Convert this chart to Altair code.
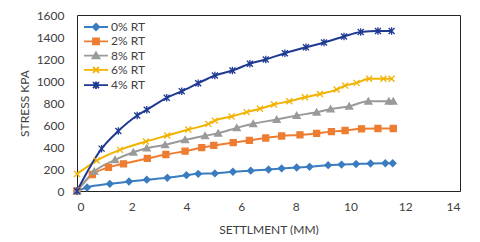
import altair as alt
import pandas as pd

series_names = ["0% RT", "2% RT", "8% RT", "6% RT", "4% RT"]
colors = ["#3A7CC0", "#ED7D31", "#9A9A9A", "#F2B200", "#1F3A93"]

x0 = [0, 0.37, 1.2, 1.9, 2.55, 3.3, 4.0, 4.43, 5.04, 5.7, 6.35, 7.0, 7.48, 8.03, 8.5, 9.18, 9.67, 10.2, 10.73, 11.27, 11.54]
y0 = [0, 32, 65, 86, 103, 120, 144, 156, 160, 175, 185, 195, 205, 214, 220, 235, 240, 245, 250, 252, 252]

x2 = [0, 0.56, 1.15, 1.7, 2.57, 3.25, 3.95, 4.56, 5.0, 5.71, 6.3, 6.9, 7.48, 8.15, 8.76, 9.3, 9.8, 10.4, 11.0, 11.56]
y2 = [0, 150, 214, 247, 296, 332, 362, 395, 414, 440, 460, 482, 500, 510, 523, 540, 550, 565, 568, 568]

x8 = [0, 0.63, 1.39, 2.06, 2.55, 3.22, 3.95, 4.68, 5.16, 5.84, 6.44, 7.3, 8.03, 8.76, 9.27, 9.95, 10.65, 11.4, 11.56]
y8 = [0, 178, 283, 352, 389, 420, 465, 502, 525, 574, 611, 650, 686, 716, 745, 770, 815, 815, 815]

x6 = [0, 0.72, 1.57, 2.52, 3.3, 4.07, 4.8, 5.04, 5.65, 6.2, 6.69, 7.2, 7.76, 8.33, 8.88, 9.49, 9.8, 10.22, 10.68, 11.2, 11.5]
y6 = [155, 277, 374, 450, 505, 559, 610, 640, 677, 717, 747, 786, 816, 852, 882, 922, 958, 983, 1020, 1020, 1020]

x4 = [0, 0.9, 1.51, 2.2, 2.55, 3.28, 3.83, 4.43, 5.04, 5.68, 6.32, 6.9, 7.6, 8.37, 9.03, 9.76, 10.37, 11.0, 11.5]
y4 = [0, 385, 545, 686, 738, 847, 907, 980, 1050, 1095, 1157, 1196, 1253, 1307, 1350, 1405, 1445, 1455, 1455]

xs = [x0, x2, x8, x6, x4]
ys = [y0, y2, y8, y6, y4]

rows = []
for name, xv, yv in zip(series_names, xs, ys):
    for i, (a, b) in enumerate(zip(xv, yv)):
        rows.append({"series": name, "x": a, "y": b, "order": i})
df = pd.DataFrame(rows)

shapes = [
    "M0,-0.65L0.65,0L0,0.65L-0.65,0Z",
    "M-0.6,-0.6H0.6V0.6H-0.6Z",
    "M0,-0.65L0.7,0.55H-0.7Z",
    "M-0.6,-0.6L0.6,0.6M-0.6,0.6L0.6,-0.6",
    "M-0.6,-0.6L0.6,0.6M-0.6,0.6L0.6,-0.6M0,-0.75V0.75",
]
# legend symbols: a short line segment with the series marker on it
legend_shapes = ["M-2.4,0H2.4" + s for s in shapes]

FONT = "Lato"
TXT = "#404040"

x_enc = alt.X("x:Q", title="SETTLMENT (MM)",
              scale=alt.Scale(domain=[0, 14], nice=False),
              axis=alt.Axis(values=list(range(0, 15, 2)), grid=False, ticks=False, domain=False,
                            labelPadding=10, titlePadding=12, format="d"))
y_enc = alt.Y("y:Q", title="STRESS KPA",
              scale=alt.Scale(domain=[0, 1600], nice=False),
              axis=alt.Axis(values=list(range(0, 1601, 200)), grid=False, ticks=False, domain=False,
                            labelPadding=13, titlePadding=5, format="d"))

base = alt.Chart(df).encode(x=x_enc, y=y_enc, order="order:Q")

line = base.mark_line(interpolate="monotone", strokeWidth=2).encode(
    stroke=alt.Stroke("series:N", scale=alt.Scale(domain=series_names, range=colors), legend=None),
)

points = base.mark_point(filled=True, size=100, strokeWidth=1.3, opacity=1).encode(
    fill=alt.Fill("series:N", scale=alt.Scale(domain=series_names, range=colors), legend=None),
    stroke=alt.Stroke("series:N", scale=alt.Scale(domain=series_names, range=colors), legend=None),
    shape=alt.Shape("series:N", scale=alt.Scale(domain=series_names, range=shapes), legend=None),
)

leg = alt.Legend(title=None, orient="none", legendX=13, legendY=6, padding=0,
                 symbolSize=100, symbolStrokeWidth=1.8, labelFont=FONT, labelFontSize=12,
                 labelColor=TXT, labelOffset=9, rowPadding=0.3)

legend_layer = alt.Chart(df).transform_filter("false").mark_point(
    filled=True, size=100, opacity=1).encode(
    fill=alt.Fill("series:N", scale=alt.Scale(domain=series_names, range=colors), legend=leg),
    stroke=alt.Stroke("series:N", scale=alt.Scale(domain=series_names, range=colors), legend=leg),
    shape=alt.Shape("series:N", scale=alt.Scale(domain=series_names, range=legend_shapes), legend=leg),
)

chart = alt.layer(line, points, legend_layer).resolve_scale(
    fill="independent", stroke="independent", shape="independent"
).properties(
    width=383, height=176,
    background="white",
    autosize=alt.AutoSizeParams(type="none"),
    padding={"left": 69, "top": 7, "right": 12, "bottom": 44},
).configure_view(stroke="#222222", strokeWidth=1).configure_axis(
    labelFont=FONT, labelFontSize=12, labelColor=TXT, titleFont=FONT, titleFontSize=12,
    titleColor=TXT, titleFontWeight="normal"
)

chart.save("out.html", embed_options={"renderer": "svg", "actions": False})
